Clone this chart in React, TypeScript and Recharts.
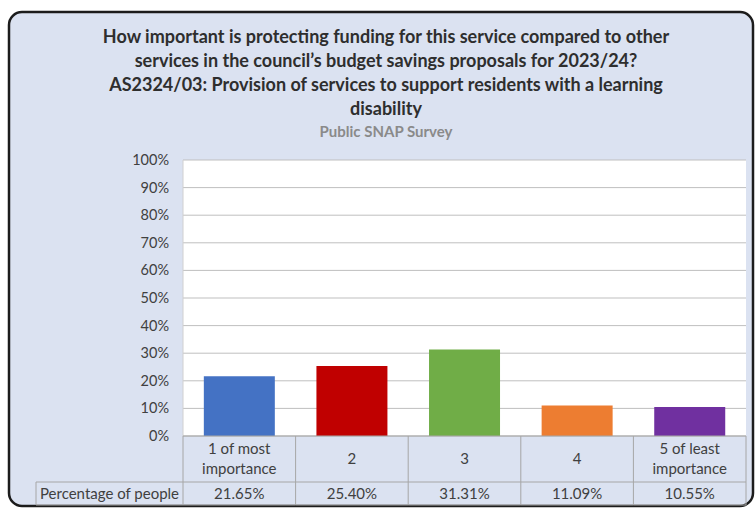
import React from 'react';
import { BarChart, Bar, XAxis, YAxis, CartesianGrid, Cell } from 'recharts';

const categories = ['1 of most importance', '2', '3', '4', '5 of least importance'];
const percentages = [21.65, 25.4, 31.31, 11.09, 10.55];
const valueLabels = ['21.65%', '25.40%', '31.31%', '11.09%', '10.55%'];
const barColors = ['#4472C4', '#C00000', '#70AD47', '#ED7D31', '#7030A0'];
const yTicks = [0, 10, 20, 30, 40, 50, 60, 70, 80, 90, 100];
const titleLines = [
  'How important is protecting funding for this service compared to other',
  'services in the council\u2019s budget savings proposals for 2023/24?',
  'AS2324/03:  Provision of services to support residents with a learning',
  'disability',
];
const subtitle = 'Public SNAP Survey';
const rowLabel = 'Percentage of people';

const data = categories.map((name, i) => ({ name, value: percentages[i], label: valueLabels[i] }));

const FONT = 'Lato, "Open Sans", sans-serif';
const TEXT = '#404040';
const LINE = '#a6a6a6';

// splits the two-word-ish category labels the way Excel wraps them
function wrap(label: string): string[] {
  if (label.length < 10) return [label];
  const words = label.split(' ');
  const last = words.pop() as string;
  return [words.join(' '), last];
}

function YTick(props: any) {
  const { y, payload } = props;
  return (
    <text x={169} y={y} dy={5} textAnchor="end" fontFamily={FONT} fontSize={14.5} fill={TEXT}>
      {payload.value}%
    </text>
  );
}

function TableTick(props: any) {
  const { x, y, payload, index, width } = props;
  const cw = width / data.length;
  const left = x - cw / 2;
  const right = x + cw / 2;
  const rowH = 46;
  const valH = 23;
  const lines = wrap(payload.value);
  return (
    <g>
      <line x1={left} y1={y} x2={left} y2={y + rowH + valH} stroke={LINE} />
      {index === data.length - 1 && (
        <line x1={right} y1={y} x2={right} y2={y + rowH + valH} stroke={LINE} />
      )}
      <line x1={left} y1={y + rowH} x2={right} y2={y + rowH} stroke={LINE} />
      <line x1={left} y1={y + rowH + valH} x2={right} y2={y + rowH + valH} stroke={LINE} />
      {lines.map((t, i) => (
        <text
          key={i}
          x={x}
          y={y + rowH / 2 + (i - (lines.length - 1) / 2) * 20}
          dy={5}
          textAnchor="middle"
          fontFamily={FONT}
          fontSize={15}
          fill={TEXT}
        >
          {t}
        </text>
      ))}
      <text x={x} y={y + rowH + valH / 2} dy={5} textAnchor="middle" fontFamily={FONT} fontSize={15} fill={TEXT}>
        {data[index].label}
      </text>
      {index === 0 && (
        <g>
          <line x1={36} y1={y + rowH} x2={left} y2={y + rowH} stroke={LINE} />
          <line x1={36} y1={y + rowH + valH} x2={left} y2={y + rowH + valH} stroke={LINE} />
          <line x1={36} y1={y + rowH} x2={36} y2={y + rowH + valH} stroke={LINE} />
          <text x={(36 + left) / 2} y={y + rowH + valH / 2} dy={5} textAnchor="middle" fontFamily={FONT} fontSize={15} fill={TEXT}>
            {rowLabel}
          </text>
        </g>
      )}
    </g>
  );
}

export default function App() {
  return (
    <div style={{ position: 'absolute', left: 0, top: 0, width: 755, height: 508, overflow: 'hidden', background: '#fff' }}>
      <svg width={755} height={508} style={{ position: 'absolute', left: 0, top: 0 }}>
        <rect x={9} y={12} width={744} height={494} rx={13} fill="#dbe2f1" stroke="#1c1c1c" strokeWidth={2.5} />
        {titleLines.map((t, i) => (
          <text
            key={i}
            x={386}
            y={43 + i * 24}
            textAnchor="middle"
            fontFamily={FONT}
            fontWeight={700}
            fontSize={18}
            fill="#2e2e2e"
          >
            {t}
          </text>
        ))}
        <text x={386} y={137} textAnchor="middle" fontFamily={FONT} fontWeight={700} fontSize={15} fill="#8a8a8a">
          {subtitle}
        </text>
      </svg>
      <div style={{ position: 'absolute', left: 0, top: 0 }}>
        <BarChart width={755} height={508} data={data} margin={{ top: 160, right: 9, left: 0, bottom: 2 }} barCategoryGap="18.5%">
          <CartesianGrid vertical={false} stroke="#bfbfbf" fill="#ffffff" />
          <YAxis
            width={183}
            domain={[0, 100]}
            ticks={yTicks}
            interval={0}
            tick={<YTick />}
            tickLine={false}
            axisLine={{ stroke: '#d0d0d0' }}
          />
          <XAxis
            dataKey="name"
            height={70}
            interval={0}
            tickSize={0}
            tickMargin={0}
            tickLine={false}
            axisLine={{ stroke: LINE }}
            tick={<TableTick />}
          />
          <Bar dataKey="value" isAnimationActive={false}>
            {data.map((d, i) => (
              <Cell key={d.name} fill={barColors[i]} />
            ))}
          </Bar>
        </BarChart>
      </div>
    </div>
  );
}
